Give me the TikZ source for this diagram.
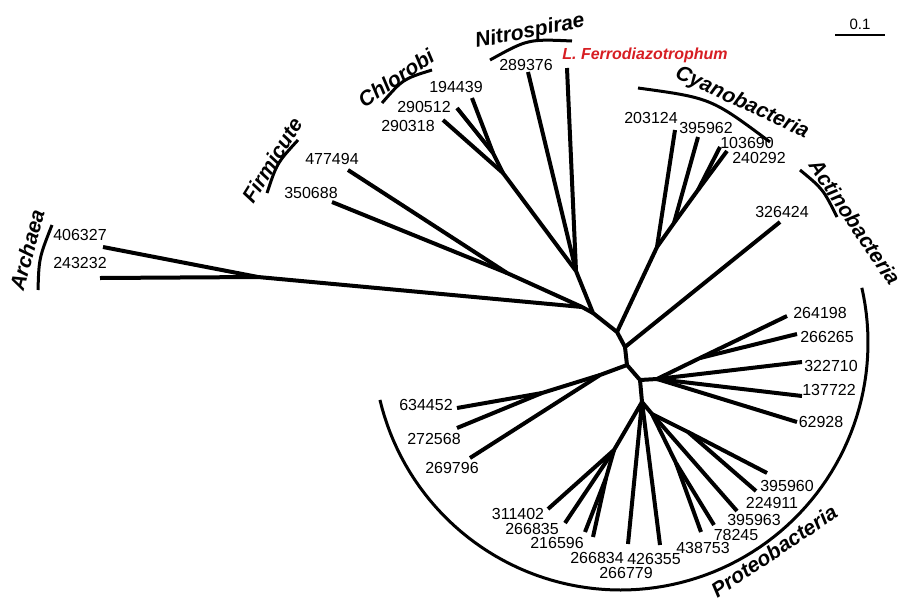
\documentclass[tikz,border=0pt]{standalone}
\usepackage{fontspec}
\setmainfont{Liberation Sans}
\usepackage{tikz}
\usetikzlibrary{positioning}
\usetikzlibrary{calc}

\definecolor{ferrored}{RGB}{215,30,35}

\begin{document}
\begin{tikzpicture}[x=1pt,y=-1pt,
  branch/.style={line width=4pt,line join=round},
  clade/.style={line width=3pt},
  leaf/.style={inner sep=0pt,font=\fontsize{16}{18}\selectfont},
  group/.style={inner sep=0pt,font=\fontsize{21}{24}\selectfont\bfseries\itshape}]
\useasboundingbox (0,0) rectangle (904,603);

% leaf tips
\coordinate (t406327) at (103,247);
\coordinate (t243232) at (100,278);
\coordinate (t477494) at (348,170);
\coordinate (t350688) at (332,202);
\coordinate (t194439) at (472,98);
\coordinate (t290512) at (457,108);
\coordinate (t290318) at (443,120);
\coordinate (t289376) at (528,72);
\coordinate (tferro) at (567,68);
\coordinate (t203124) at (675,130);
\coordinate (t395962) at (698,137);
\coordinate (t103690) at (720,147);
\coordinate (t240292) at (727,151);
\coordinate (t326424) at (780,222);
\coordinate (t264198) at (787,316);
\coordinate (t266265) at (797,334);
\coordinate (t322710) at (802,362);
\coordinate (t137722) at (802,396);
\coordinate (t62928) at (797,422);
\coordinate (t634452) at (457,408);
\coordinate (t272568) at (457,428);
\coordinate (t269796) at (470,458);
\coordinate (t311402) at (548,509);
\coordinate (t266835) at (565,523);
\coordinate (t216596) at (585,532);
\coordinate (t266834) at (593,537);
\coordinate (t266779) at (628,544);
\coordinate (t426355) at (660,545);
\coordinate (t438753) at (701,532);
\coordinate (t78245) at (714,525);
\coordinate (t395963) at (737,511);
\coordinate (t224911) at (756,491);
\coordinate (t395960) at (767,473);

% inner nodes
\coordinate (arch) at (258,277);
\coordinate (aj) at (582,307);
\coordinate (firm) at (507,273);
\coordinate (chl1) at (493,153);
\coordinate (chl2) at (503,173);
\coordinate (nc) at (576,271);
\coordinate (j1) at (593,313);
\coordinate (A) at (617,332);
\coordinate (cy1) at (657,247);
\coordinate (cy2) at (674,223);
\coordinate (cy3) at (698,190);
\coordinate (B) at (625,347);
\coordinate (C) at (627,365);
\coordinate (P1) at (600,375);
\coordinate (P2) at (542,393);
\coordinate (D) at (640,380);
\coordinate (Rt) at (657,379);
\coordinate (Ra) at (700,358);
\coordinate (E) at (642,402);
\coordinate (L1) at (614,450);
\coordinate (L2) at (606,478);
\coordinate (R1) at (652,414);
\coordinate (R2) at (676,463);
\coordinate (R3) at (688,432);

% branches
\draw[branch] (t243232) -- (arch) -- (aj);
\draw[branch] (t406327) -- (arch);
\draw[branch] (t350688) -- (firm) -- (aj) -- (j1);
\draw[branch] (t477494) -- (firm);
\draw[branch] (t194439) -- (chl1) -- (chl2) -- (nc) -- (j1) -- (A) -- (B) -- (C) -- (D) -- (E);
\draw[branch] (t290512) -- (chl1);
\draw[branch] (t290318) -- (chl2);
\draw[branch] (t289376) -- (nc);
\draw[branch] (tferro) -- (nc);
\draw[branch] (A) -- (cy1) -- (cy2) -- (cy3) -- (t240292);
\draw[branch] (t203124) -- (cy1);
\draw[branch] (t395962) -- (cy2);
\draw[branch] (t103690) -- (cy3);
\draw[branch] (B) -- (t326424);
\draw[branch] (C) -- (P1) -- (P2) -- (t634452);
\draw[branch] (t272568) -- (P2);
\draw[branch] (t269796) -- (P1);
\draw[branch] (D) -- (Rt) -- (Ra) -- (t264198);
\draw[branch] (t266265) -- (Ra);
\draw[branch] (t322710) -- (Rt);
\draw[branch] (t137722) -- (Rt);
\draw[branch] (t62928) -- (Rt);
\draw[branch] (E) -- (L1) -- (t311402);
\draw[branch] (t266835) -- (L1);
\draw[branch] (L1) -- (L2) -- (t216596);
\draw[branch] (t266834) -- (L2);
\draw[branch] (E) -- (t266779);
\draw[branch] (E) -- (t426355);
\draw[branch] (E) -- (R1) -- (R3) -- (t395960);
\draw[branch] (t224911) -- (R3);
\draw[branch] (t395963) -- (R1);
\draw[branch] (R1) -- (R2) -- (t78245);
\draw[branch] (t438753) -- (R2);

% leaf labels
\node[leaf] (l406327) at (80,235) {406327};
\node[leaf] (l243232) at (80,263) {243232};
\node[leaf] (l477494) at (332,159) {477494};
\node[leaf] (l350688) at (311,193) {350688};
\node[leaf] (l194439) at (456,87) {194439};
\node[leaf] (l290512) at (424,107) {290512};
\node[leaf] (l290318) at (408,126) {290318};
\node[leaf] (l289376) at (526,65) {289376};
\node[leaf,text=ferrored,font=\fontsize{16}{18}\selectfont\bfseries\itshape] (lferro) at (645,55) {L. Ferrodiazotrophum};
\node[leaf] (l203124) at (651,118) {203124};
\node[leaf] (l395962) at (706,128) {395962};
\node[leaf] (l103690) at (747,143) {103690};
\node[leaf] (l240292) at (759,158) {240292};
\node[leaf] (l326424) at (782,212) {326424};
\node[leaf] (l264198) at (820,313) {264198};
\node[leaf] (l266265) at (827,337) {266265};
\node[leaf] (l322710) at (831,366) {322710};
\node[leaf] (l137722) at (829,390) {137722};
\node[leaf] (l62928) at (821,422) {62928};
\node[leaf] (l634452) at (426,405) {634452};
\node[leaf] (l272568) at (434,439) {272568};
\node[leaf] (l269796) at (452,468) {269796};
\node[leaf] (l311402) at (518,514) {311402};
\node[leaf] (l266835) at (532,529) {266835};
\node[leaf] (l216596) at (557,543) {216596};
\node[leaf] (l266834) at (597,558) {266834};
\node[leaf] (l266779) at (626,573) {266779};
\node[leaf] (l426355) at (654,559) {426355};
\node[leaf] (l438753) at (703,548) {438753};
\node[leaf] (l78245) at (736,535) {78245};
\node[leaf] (l395963) at (754,520) {395963};
\node[leaf] (l224911) at (772,503) {224911};
\node[leaf] (l395960) at (787,486) {395960};

% clades
\node[group,rotate=75] (archaea) at (27,250) {Archaea};
\draw[clade] (38,290) .. controls (39,258) .. (52,225);
\node[group,rotate=58] (firmicute) at (272,160) {Firmicute};
\draw[clade] (267,193) .. controls (277,163) .. (298,140);
\node[group,rotate=34] (chlorobi) at (396,78) {Chlorobi};
\draw[clade] (382,103) .. controls (403,79) .. (432,70);
\node[group,rotate=11] (nitrospirae) at (530,32) {Nitrospirae};
\draw[clade] (490,60) .. controls (528,39) .. (572,41);
\node[group,rotate=-25] (cyano) at (742,103) {Cyanobacteria};
\draw[clade] (638,88) .. controls (711,98) .. (770,142);
\node[group,rotate=-56] (actino) at (855,222) {Actinobacteria};
\draw[clade] (800,170) .. controls (823,189) .. (837,217);
\node[group,rotate=34] (proteo) at (774,551) {Proteobacteria};
\draw[clade] plot[domain=-12.8:166.6,samples=90] ({620.6+247.4*cos(\x)},{342.6+247.4*sin(\x)});

% scale
\draw[line width=1.5pt] (835,35) -- (885,35);
\node[leaf,font=\fontsize{15}{17}\selectfont] (scale) at (860,24) {0.1};
\end{tikzpicture}
\end{document}
